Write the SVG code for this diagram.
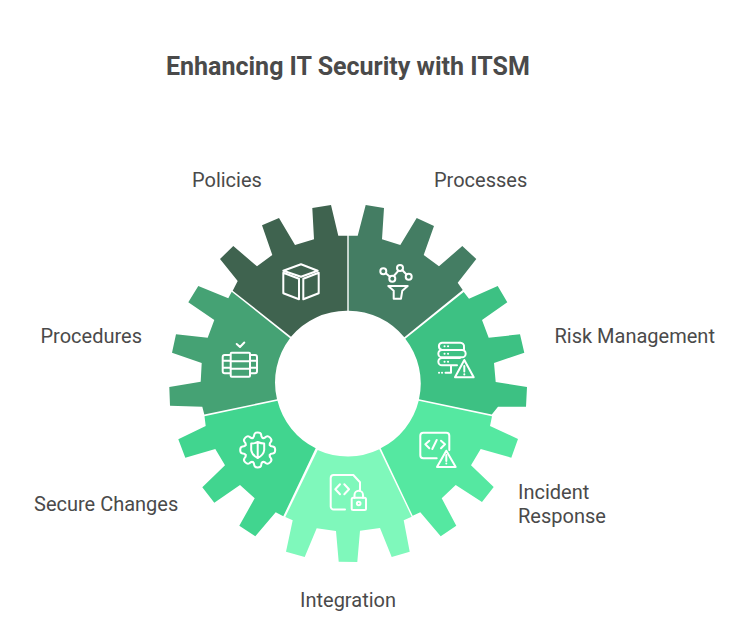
<svg xmlns="http://www.w3.org/2000/svg" width="744" height="622" viewBox="0 0 744 622">
<style>
.t{font-family:Roboto,"Liberation Sans",sans-serif;fill:#4a4a4a}
.l{font-size:20px}
.i{fill:none;stroke:#fff;stroke-width:2;stroke-linecap:round;stroke-linejoin:round}
</style>
<defs>
<path id="tooth" d="M-4.97,-12 Q-3.4,-12.8 -3.5,-15.2 Q-3.2,-17.5 0,-17.5 Q3.2,-17.5 3.5,-15.2 Q3.4,-12.8 4.97,-12"/>
</defs>
<rect width="744" height="622" fill="#fff"/>
<text class="t" x="166" y="75" font-size="25" font-weight="700">Enhancing IT Security with ITSM</text>
<g id="connectors"/>
<g id="policies">
<path fill="#3f634f" d="M347.3,235.7L338.3,235.7L331,205L312.3,208L314,239.3L295,245L279,218L262,225.3L272.3,255L257,266.3L233.3,246L220,259L237.7,281L232.7,290.7L291,336.7A72.5,72.5 0 0 1 347.3,310.7Z"/>
<g class="i"><path d="M301,264.3L317.7,270.7L301,276.7L283.3,270.7Z"/><path d="M283.3,272.7L299,278.7V299.3L283.3,293.3Z"/><path d="M303.3,278.7L318.7,272.7V293.3L303.3,299.3Z"/></g>
<text class="t l" x="192" y="187">Policies</text>
</g>
<g id="processes">
<path fill="#447d63" d="M348.7,235.7L357.7,235.7L365.7,205L384,208L382,239.3L400.3,245L416.7,218L434,226L423.7,255L439,266.3L462.3,246L476.3,259L457.7,282.7L462.7,290L404.3,337.3A72.5,72.5 0 0 0 348.7,310.7Z"/>
<g class="i"><circle cx="383.3" cy="271.3" r="3"/><circle cx="392.3" cy="278.7" r="3"/><circle cx="400" cy="268" r="3"/><circle cx="408.7" cy="276.7" r="3"/><path d="M385.8,273.3L389.9,276.8M393.8,276L398.5,270.7M402.2,270L406.5,274.5"/><path d="M388.3,286H407.7L402.3,290.7L401,298.7H393.7L393.7,290.7Z"/></g>
<text class="t l" x="434" y="187">Processes</text>
</g>
<g id="risk-management">
<path fill="#3dc183" d="M463.7,292L469,298.7L497.7,286L507.3,302.3L482,320L488.7,337.7L520,334.3L524.3,352.7L494,363L495.7,382L527,387L526,406.7L498,406.7L491.8,414.6L419,399.3A72.5,72.5 0 0 0 405.3,338.7Z"/>
<g class="i"><path d="M462,350H442A3.7,3.7 0 0 1 442,342.7H460A3.7,3.7 0 0 1 464,347V350M462,350A3.6,3.6 0 0 1 462,357.3H442A3.6,3.6 0 0 1 442,350M460,358H442A3.6,3.6 0 0 0 442,365.3H457M451,365.3V372.7H445.5"/><path d="M464.3,360L473.7,377.3H455Z"/><path d="M464.3,366V371.5M464.3,374.3V374.4M444.5,346.3H444.6M448,346.3H448.1M444.5,353.7H444.6M448,353.7H448.1M444.5,361.7H444.6M448,361.7H448.1M439,372.7H439.1M442,372.7H442.1"/></g>
<text class="t l" x="554.5" y="343">Risk Management</text>
</g>
<g id="incident-response">
<path fill="#55e8a1" d="M412.7,515.7L420.3,512.3L440.7,536.3L456.3,525.7L441.7,498.3L455.7,485L482,502L493.7,487L471,465.3L480.7,449L511.3,457.7L518,439L490,426L492,416.2L418.7,400.8A72.5,72.5 0 0 1 380.7,448.3Z"/>
<g class="i"><path d="M436.7,458.3H423.3A3,3 0 0 1 420.3,455.3V435.7A3,3 0 0 1 423.3,432.7H446.3A3,3 0 0 1 449.3,435.7V450"/><path d="M429.3,440.7L425.3,444.3L429.3,448.3M441,440.7L445,444.3L441,448.3M436.7,440L432.3,449"/><path d="M446.3,450.7L455.7,467H437Z"/><path d="M446.3,455V461M446.3,463.5V463.6"/></g>
<text class="t l"><tspan x="518" y="499">Incident</tspan><tspan x="518" y="523">Response</tspan></text>
</g>
<g id="integration">
<path fill="#7ff8bb" d="M285.3,517L292.7,520.3L286,551.7L304.7,557L316.7,528.3L336,531L338.7,561.7L357.3,562L360,530.7L380,528L391.7,557L409.7,551.7L403.7,520.3L411.7,516.7L379.3,449.3A72.5,72.5 0 0 1 317.7,450Z"/>
<g class="i"><path d="M345,509.5H333.7A3,3 0 0 1 330.7,506.5V478A3,3 0 0 1 333.7,475H353.3L360,482.3V491"/><path d="M340,484.3L335.3,489.3L340,494.3M344.3,484.3L349,489.3L344.3,494.3"/><rect x="351.7" y="497.7" width="14.3" height="12.3" rx="1.5"/><path d="M354.5,497.7V495A4.2,4.2 0 0 1 363,495V497.7"/><circle cx="358.7" cy="503.5" r="1.8"/></g>
<text class="t l" x="300" y="607">Integration</text>
</g>
<g id="secure-changes">
<path fill="#41d58f" d="M204.5,416.3L205.7,426L178.3,439.3L185.3,457.7L215.3,449L225,465.3L202.3,487.3L214.3,502.7L240,485L254.7,498.3L239.3,525.7L255.3,536.3L275.7,512.3L283.3,516.3L315.7,448.3A72.5,72.5 0 0 1 277.5,400.8Z"/>
<g class="i" transform="translate(257.7 450)"><use href="#tooth"/><use href="#tooth" transform="rotate(45)"/><use href="#tooth" transform="rotate(90)"/><use href="#tooth" transform="rotate(135)"/><use href="#tooth" transform="rotate(180)"/><use href="#tooth" transform="rotate(225)"/><use href="#tooth" transform="rotate(270)"/><use href="#tooth" transform="rotate(315)"/><path d="M-6.5,-6.5Q-3,-6.5 0,-8Q3,-6.5 6.5,-6.5V0Q6,5 0,8Q-6,5 -6.5,0ZM0,-8V8"/></g>
<text class="t l" x="34" y="511">Secure Changes</text>
</g>
<g id="procedures">
<path fill="#45a274" d="M228.3,298.3L198.3,286L188.3,302.3L214.3,320L207.7,337.7L176,334.3L172,352.7L201.7,363L200.7,381.7L169.3,387L170,405.7L202.3,406.7L204.3,414.6L277,399.2A72.5,72.5 0 0 1 290,338.3L231.7,291.7Z"/>
<g class="i"><path d="M236.7,344L240,347L244.3,342.5"/><rect x="230.7" y="352.7" width="19.3" height="24" rx="1"/><path d="M230.7,361.3H250M230.7,368.7H250"/><path d="M230,355H224.7A2,2 0 0 0 222.7,357V371.3A2,2 0 0 0 224.7,373.3H230M222.7,360.7H230M222.7,367.7H230"/><path d="M250.7,355H255A2,2 0 0 1 257,357V371.3A2,2 0 0 1 255,373.3H250.7M257,360.7H250.7M257,367.7H250.7"/></g>
<text class="t l" x="40.5" y="343">Procedures</text>
</g>
</svg>
